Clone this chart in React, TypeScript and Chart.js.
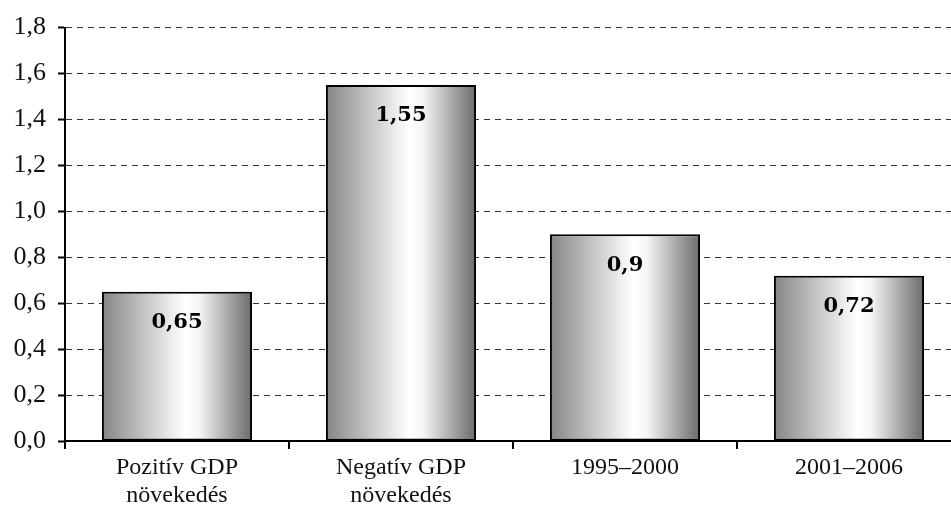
import React, { useEffect, useRef } from "react";
import { Chart, registerables } from "chart.js";

Chart.register(...registerables);

const categories: string[][] = [
  ["Pozitív GDP", "növekedés"],
  ["Negatív GDP", "növekedés"],
  ["1995–2000"],
  ["2001–2006"],
];
const values: number[] = [0.65, 1.55, 0.9, 0.72];
const valueLabels: string[] = ["0,65", "1,55", "0,9", "0,72"];

const fmt = (v: number) => v.toFixed(1).replace(".", ",");

const gradientPlugin = {
  id: "barGradient",
  beforeDatasetsDraw(chart: any) {
    const ctx = chart.ctx;
    const meta = chart.getDatasetMeta(0);
    meta.data.forEach((el: any) => {
      const w = el.width;
      const x0 = el.x - w / 2;
      const x1 = el.x + w / 2;
      if (!isFinite(x0) || !isFinite(x1)) return;
      const g = ctx.createLinearGradient(x0, 0, x1, 0);
      g.addColorStop(0, "#858585");
      g.addColorStop(0.3, "#c8c8c8");
      g.addColorStop(0.55, "#ffffff");
      g.addColorStop(0.65, "#f4f4f4");
      g.addColorStop(1, "#6a6a6a");
      el.options = { ...el.options, backgroundColor: g };
    });
  },
};

const labelPlugin = {
  id: "valueLabels",
  afterDatasetsDraw(chart: any) {
    const ctx = chart.ctx;
    const meta = chart.getDatasetMeta(0);
    ctx.save();
    ctx.font = "bold 21px 'DejaVu Serif'";
    ctx.fillStyle = "#000";
    ctx.textAlign = "center";
    ctx.textBaseline = "middle";
    meta.data.forEach((el: any, i: number) => {
      ctx.fillText(valueLabels[i], el.x, el.y + 31);
    });
    ctx.restore();
  },
};

export default function App() {
  const ref = useRef<HTMLCanvasElement | null>(null);
  useEffect(() => {
    if (!ref.current) return;
    const chart = new Chart(ref.current, {
      type: "bar",
      data: {
        labels: categories,
        datasets: [
          {
            data: values,
            backgroundColor: "#cccccc",
            borderColor: "#000",
            borderWidth: 2,
            borderSkipped: false,
            barPercentage: 0.67,
            categoryPercentage: 1,
          },
        ],
      },
      options: {
        animation: false,
        responsive: false,
        maintainAspectRatio: false,
        layout: { padding: { top: 25, right: 14, left: 0, bottom: 0 } },
        plugins: {
          legend: { display: false },
          tooltip: { enabled: false },
        },
        scales: {
          x: {
            grid: {
              display: true,
              drawOnChartArea: false,
              offset: true,
              color: "#000",
              tickLength: 8,
              lineWidth: 2,
            },
            border: { display: true, color: "#000", width: 2 },
            ticks: {
              color: "#111",
              font: { family: "'Liberation Serif'", size: 24, lineHeight: 1.2 },
              padding: 4,
              maxRotation: 0,
            },
            afterFit: (s: any) => {
              s.height = 77;
            },
          },
          y: {
            min: 0,
            max: 1.8,
            ticks: {
              stepSize: 0.2,
              color: "#111",
              font: { family: "'Liberation Serif'", size: 26 },
              padding: 12,
              callback: (v: any) => fmt(Number(v)),
            },
            grid: {
              color: "#333",
              lineWidth: 1,
              tickLength: 7,
              tickColor: "#000",
              tickWidth: 2,
              tickBorderDash: [],
            },
            border: { display: true, color: "#000", width: 2, dash: [6, 5] },
            afterFit: (s: any) => {
              s.width = 65;
            },
          },
        },
      },
      plugins: [gradientPlugin, labelPlugin],
    });
    return () => chart.destroy();
  }, []);
  return (
    <div style={{ position: "fixed", left: 0, top: 0, width: 975, height: 518, background: "#fff" }}>
      <canvas ref={ref} width={975} height={518} style={{ width: 975, height: 518 }} />
    </div>
  );
}
